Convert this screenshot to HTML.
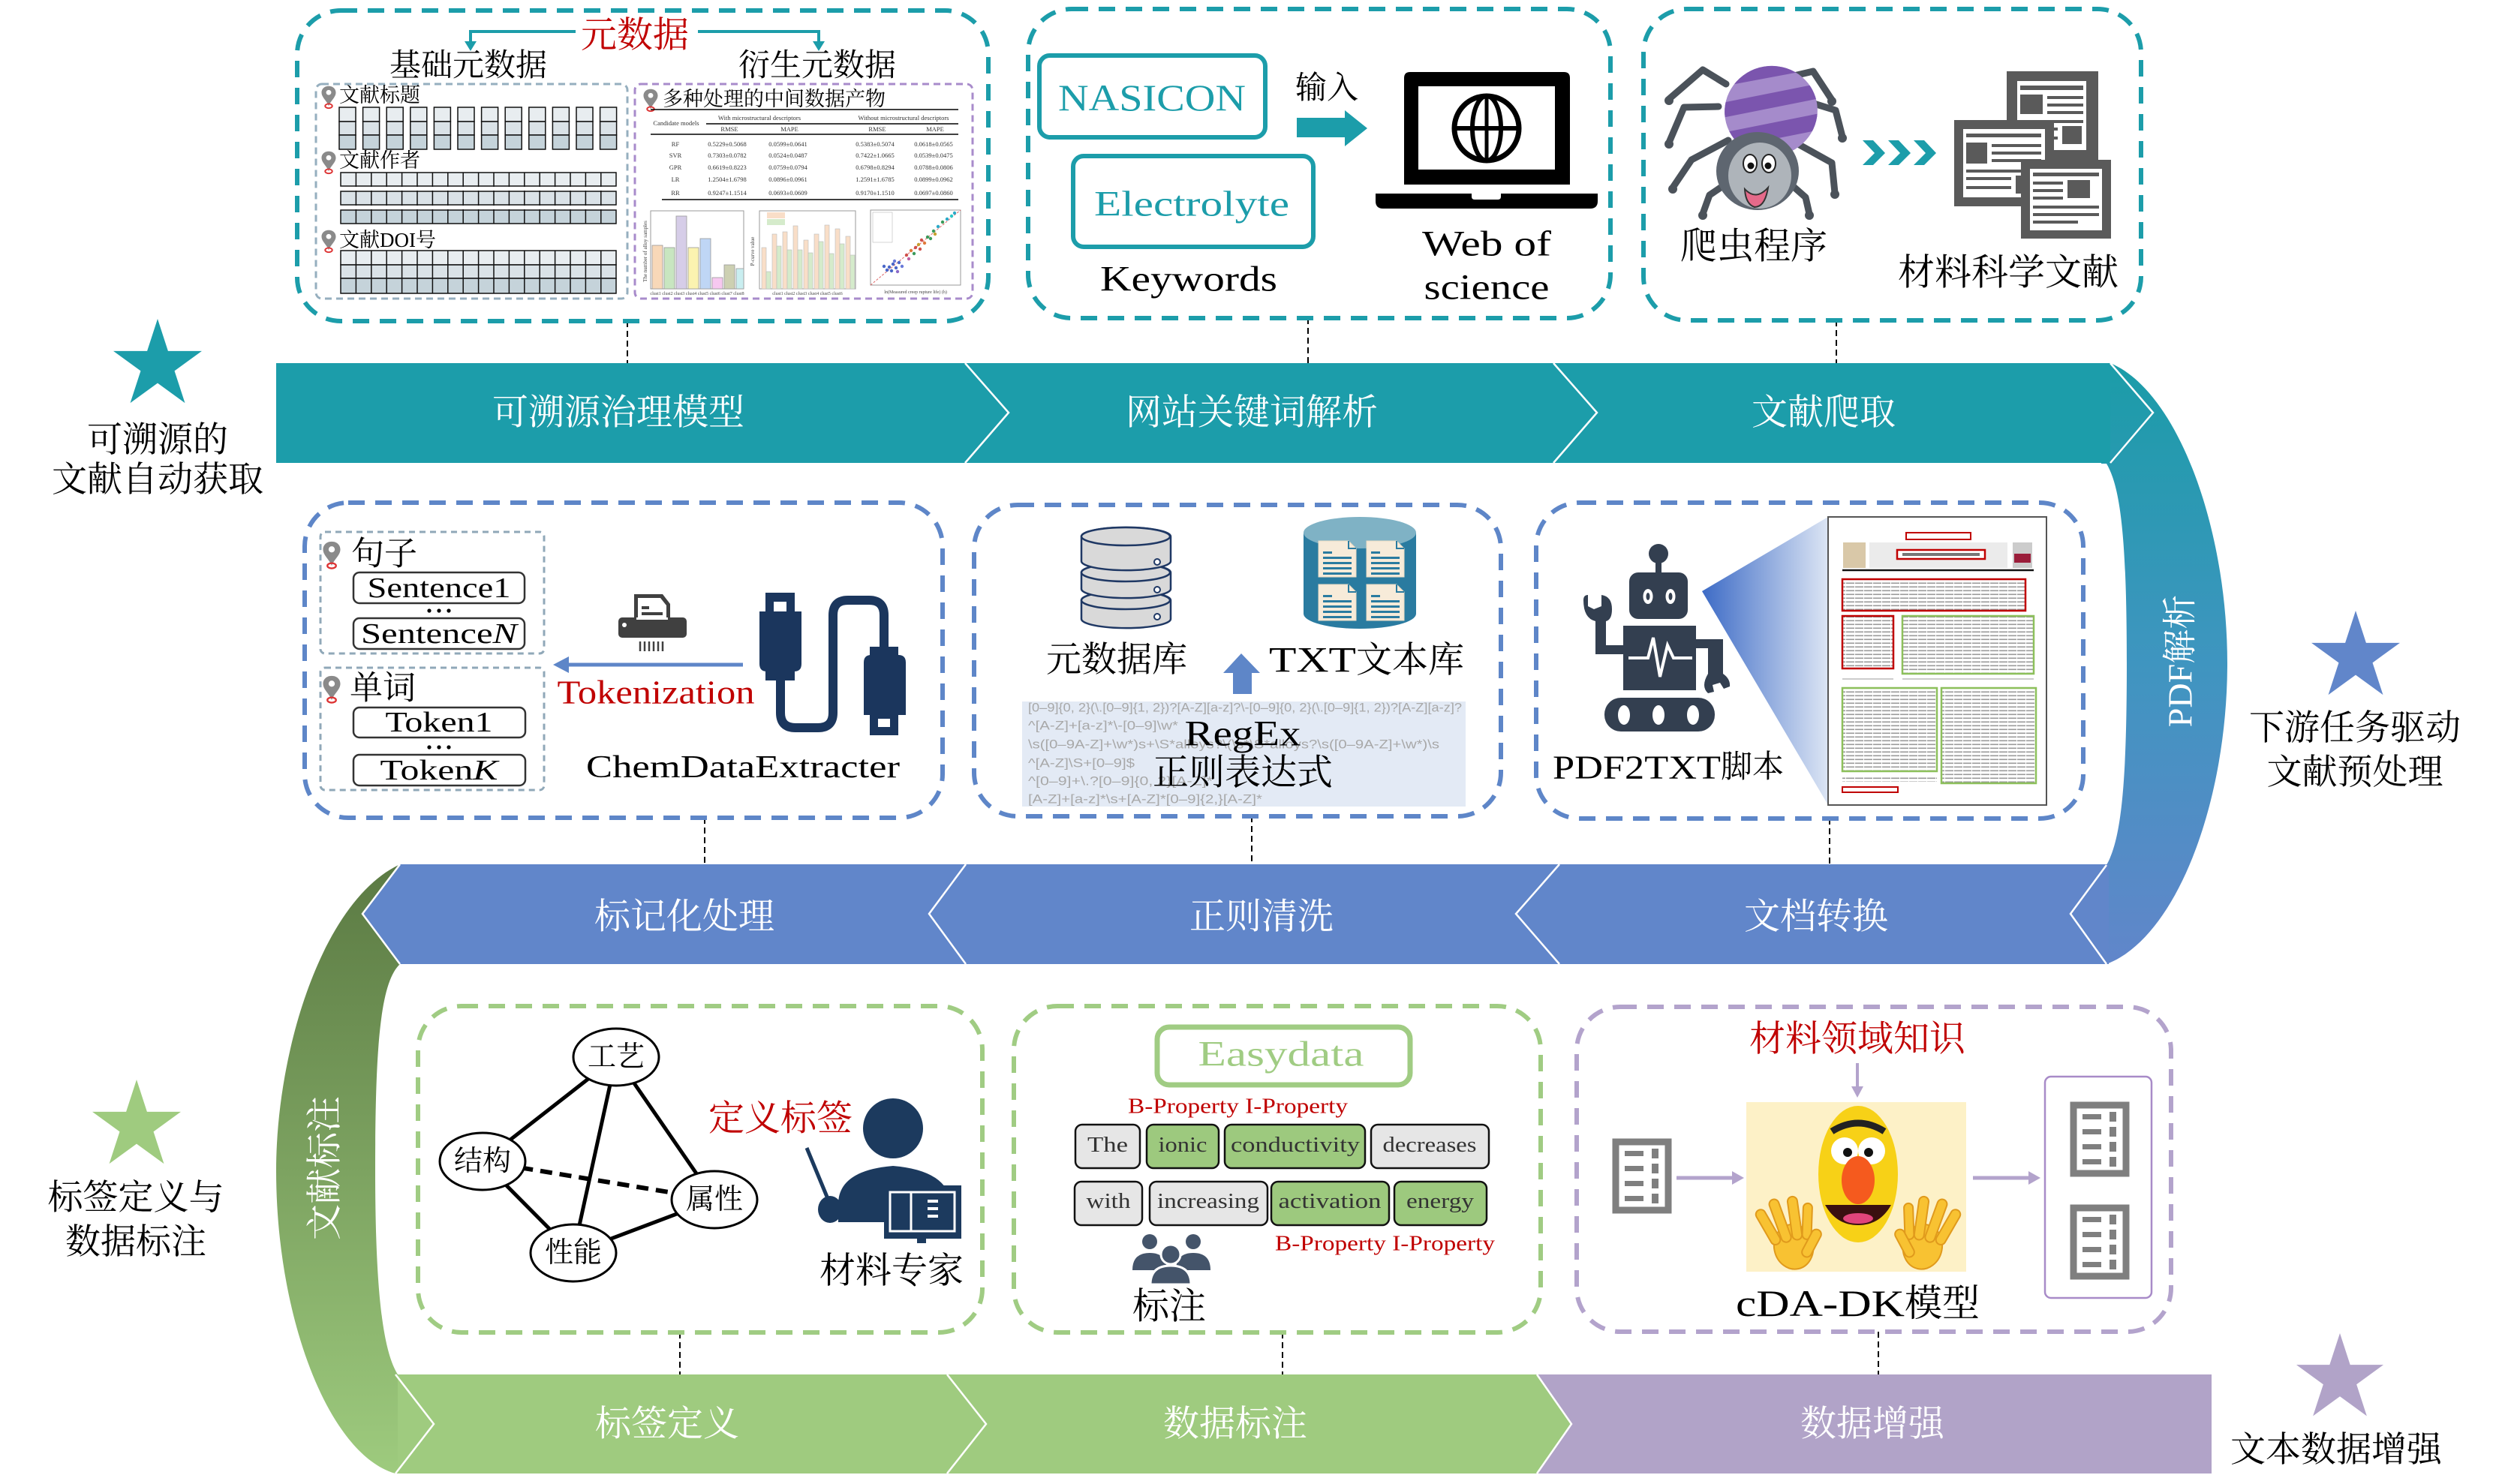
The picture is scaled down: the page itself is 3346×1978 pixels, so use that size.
<!DOCTYPE html>
<html><head><meta charset="utf-8"><title>diagram</title>
<style>
html,body{margin:0;padding:0;background:#fff;width:3346px;height:1978px;overflow:hidden;}
svg{display:block;}
text{font-family:"Liberation Serif","Noto Serif CJK SC",serif;dominant-baseline:central;}
.sans{font-family:"Liberation Sans","Noto Sans CJK SC",sans-serif;}
.bl{fill:#fff;font-size:48px;text-anchor:middle;}
.side{fill:#000;font-size:47px;text-anchor:middle;}
.tb{font-size:8.5px;fill:#333;text-anchor:middle;}
</style></head><body>
<svg width="3346" height="1978" viewBox="0 0 3346 1978" xmlns="http://www.w3.org/2000/svg">
<defs>
 <linearGradient id="gR" gradientUnits="userSpaceOnUse" x1="0" y1="484" x2="0" y2="1285">
  <stop offset="0" stop-color="#1B9CA8"/><stop offset="0.5" stop-color="#3F95C0"/><stop offset="1" stop-color="#6186CA"/>
 </linearGradient>
 <linearGradient id="gL" gradientUnits="userSpaceOnUse" x1="0" y1="1152" x2="0" y2="1964">
  <stop offset="0" stop-color="#5B7A43"/><stop offset="1" stop-color="#9ECB7E"/>
 </linearGradient>
 <linearGradient id="gTri" gradientUnits="userSpaceOnUse" x1="2268" y1="0" x2="2436" y2="0">
  <stop offset="0" stop-color="#3D6BC6"/><stop offset="1" stop-color="#DCE5F4"/>
 </linearGradient>
 <pattern id="ln" patternUnits="userSpaceOnUse" width="12" height="5">
  <rect x="0" y="1.5" width="11" height="1.6" fill="#9A9A9A"/>
 </pattern>
 <polygon id="star" points="0,-1 0.2245,-0.309 0.9511,-0.309 0.3633,0.118 0.5878,0.809 0,0.382 -0.5878,0.809 -0.3633,0.118 -0.9511,-0.309 -0.2245,-0.309"/>
 <g id="pin">
  <path d="M0,-14 C-7,-14 -10,-9 -10,-5 C-10,2 -3,6 0,14 C3,6 10,2 10,-5 C10,-9 7,-14 0,-14Z" fill="#8A8A8A"/>
  <circle cx="0" cy="-5" r="3.6" fill="#fff"/>
  <ellipse cx="0" cy="14" rx="5" ry="3" fill="none" stroke="#D33" stroke-width="2"/>
 </g>
 <g id="docic">
  <rect x="4" y="4" width="70" height="91" fill="#fff" stroke="#7F7F7F" stroke-width="9"/>
  <g fill="#7F7F7F">
   <rect x="16" y="16" width="25" height="7"/><rect x="52" y="13" width="9" height="13"/>
   <rect x="16" y="36" width="25" height="7"/><rect x="52" y="33" width="9" height="13"/>
   <rect x="16" y="56" width="25" height="7"/><rect x="52" y="53" width="9" height="13"/>
   <rect x="16" y="76" width="25" height="7"/><rect x="52" y="73" width="9" height="13"/>
  </g>
 </g>
 <g id="hand">
  <ellipse cx="0" cy="10" rx="26" ry="30" fill="#F8C232" stroke="#E09A1C" stroke-width="2"/>
  <rect x="-27" y="-50" width="13" height="52" rx="6.5" fill="#F8C232" stroke="#E09A1C" stroke-width="2" transform="rotate(-18 -20 0)"/>
  <rect x="-13" y="-58" width="13" height="60" rx="6.5" fill="#F8C232" stroke="#E09A1C" stroke-width="2" transform="rotate(-8 -6 0)"/>
  <rect x="1" y="-56" width="13" height="58" rx="6.5" fill="#F8C232" stroke="#E09A1C" stroke-width="2" transform="rotate(4 8 0)"/>
  <rect x="14" y="-44" width="12" height="48" rx="6" fill="#F8C232" stroke="#E09A1C" stroke-width="2" transform="rotate(14 20 0)"/>
  <rect x="18" y="-10" width="13" height="40" rx="6.5" fill="#F8C232" stroke="#E09A1C" stroke-width="2" transform="rotate(40 24 10)"/>
 </g>
 <g id="cdoc">
  <path d="M0,0 L40,0 L50,10 L50,48 L0,48Z" fill="#F7EBD9" stroke="#EADBC4" stroke-width="1"/>
  <path d="M40,0 L40,10 L50,10" fill="none" stroke="#2A7BA0" stroke-width="2"/>
  <g fill="#2A7BA0"><rect x="6" y="14" width="12" height="3"/><rect x="6" y="21" width="38" height="3"/><rect x="6" y="28" width="38" height="3"/><rect x="6" y="35" width="38" height="3"/><rect x="6" y="42" width="38" height="3"/></g>
 </g>
</defs>

<!-- ===== curves ===== -->
<path d="M2800,484 L2812,484 C2900,520 2968,700 2968,884 C2968,1070 2900,1250 2807,1285 L2800,1285 L2800,1153 L2807,1153 C2826,1120 2834,1050 2834,885 C2834,720 2826,650 2807,618 L2800,618 Z" fill="url(#gR)"/>
<path d="M540,1152 L533,1152 C430,1200 368,1400 368,1560 C368,1760 440,1940 527,1964 L540,1964 L540,1832 L530,1832 C510,1800 500,1720 500,1560 C500,1400 506,1310 533,1285 L540,1285 Z" fill="url(#gL)"/>

<!-- ===== bands ===== -->
<rect x="368" y="484" width="2444" height="133" fill="#1C9DAA"/>
<polygon points="483,1218 533,1152 2810,1152 2810,1285 533,1285" fill="#6186CA"/>
<rect x="530" y="1832" width="1520" height="132" fill="#9FCB7F"/>
<rect x="2048" y="1832" width="899" height="132" fill="#B1A3C8"/>
<polygon points="2047,1832 2094,1898 2047,1964" fill="#9FCB7F"/>

<g fill="none" stroke="#fff" stroke-width="2.5">
 <polyline points="1286,484 1344,550 1286,617"/>
 <polyline points="2070,484 2128,550 2070,617"/>
 <polyline points="2812,484 2869,550 2812,617"/>
 <polyline points="1287,1152 1238,1218 1287,1285"/>
 <polyline points="2078,1152 2020,1218 2078,1285"/>
 <polyline points="2807,1153 2759,1218 2807,1285"/>
 <polyline points="533,1152 483,1218 533,1285"/>
 <polyline points="527,1832 578,1898 527,1964"/>
 <polyline points="1262,1832 1314,1898 1262,1964"/>
 <polyline points="2048,1832 2094,1898 2048,1964"/>
</g>

<text class="bl" x="824" y="550">可溯源治理模型</text>
<text class="bl" x="1668" y="550">网站关键词解析</text>
<text class="bl" x="2430" y="550">文献爬取</text>
<text class="bl" x="912" y="1222">标记化处理</text>
<text class="bl" x="1681" y="1222">正则清洗</text>
<text class="bl" x="2420" y="1222">文档转换</text>
<text class="bl" x="889" y="1898">标签定义</text>
<text class="bl" x="1646" y="1898">数据标注</text>
<text class="bl" x="2495" y="1898">数据增强</text>
<text class="bl" x="0" y="0" transform="translate(2905,881) rotate(-90)" style="font-size:46px">PDF解析</text>
<text class="bl" x="0" y="0" transform="translate(433,1557) rotate(-90)">文献标注</text>

<!-- ===== stars & side labels ===== -->
<use href="#star" transform="translate(210,487) scale(62)" fill="#1C9DAA"/>
<text class="side" x="210" y="587">可溯源的</text>
<text class="side" x="210" y="640">文献自动获取</text>
<use href="#star" transform="translate(3139,876) scale(62)" fill="#6186CA"/>
<text class="side" x="3138" y="971">下游任务驱动</text>
<text class="side" x="3138" y="1030">文献预处理</text>
<use href="#star" transform="translate(182,1501) scale(62)" fill="#9FCB7F"/>
<text class="side" x="181" y="1597">标签定义与</text>
<text class="side" x="181" y="1656">数据标注</text>
<use href="#star" transform="translate(3118,1838) scale(61)" fill="#B1A3C8"/>
<text class="side" x="3113" y="1933">文本数据增强</text>

<!-- ===== connectors ===== -->
<g stroke="#000" stroke-width="2" stroke-dasharray="8 5">
 <line x1="836" y1="428" x2="836" y2="484"/>
 <line x1="1743" y1="424" x2="1743" y2="484"/>
 <line x1="2447" y1="427" x2="2447" y2="484"/>
 <line x1="939" y1="1090" x2="939" y2="1152"/>
 <line x1="1668" y1="1088" x2="1668" y2="1152"/>
 <line x1="2438" y1="1091" x2="2438" y2="1152"/>
 <line x1="906" y1="1776" x2="906" y2="1832"/>
 <line x1="1709" y1="1776" x2="1709" y2="1832"/>
 <line x1="2503" y1="1775" x2="2503" y2="1832"/>
</g>

<!-- ===== dashed boxes ===== -->
<g fill="none" stroke-width="6" stroke-dasharray="22 14">
 <rect x="396" y="14" width="921" height="414" rx="58" stroke="#1C9DAA"/>
 <rect x="1370" y="12" width="776" height="412" rx="58" stroke="#1C9DAA"/>
 <rect x="2190" y="12" width="663" height="415" rx="58" stroke="#1C9DAA"/>
 <rect x="406" y="670" width="850" height="420" rx="58" stroke="#5E86C8"/>
 <rect x="1298" y="673" width="702" height="415" rx="58" stroke="#5E86C8"/>
 <rect x="2047" y="670" width="729" height="421" rx="58" stroke="#5E86C8"/>
 <rect x="557" y="1341" width="752" height="435" rx="58" stroke="#A0CC83"/>
 <rect x="1351" y="1341" width="702" height="435" rx="58" stroke="#A0CC83"/>
 <rect x="2101" y="1342" width="792" height="433" rx="58" stroke="#B3A3CC"/>
</g>

<!-- ===== BOX 1 ===== -->
<g fill="none" stroke="#1C9DAA" stroke-width="4">
 <polyline points="627,58 627,42 767,42"/>
 <polyline points="930,42 1091,42 1091,58"/>
</g>
<polygon points="619,55 635,55 627,68" fill="#1C9DAA"/>
<polygon points="1083,55 1099,55 1091,68" fill="#1C9DAA"/>
<text x="846" y="47" style="font-size:48px;fill:#C00000;text-anchor:middle">元数据</text>
<text x="624" y="88" style="font-size:42px;text-anchor:middle">基础元数据</text>
<text x="1089" y="88" style="font-size:42px;text-anchor:middle">衍生元数据</text>
<rect x="421" y="112" width="415" height="286" rx="8" fill="none" stroke="#96AFBF" stroke-width="3" stroke-dasharray="9 6"/>
<rect x="846" y="112" width="450" height="286" rx="8" fill="none" stroke="#A88BCB" stroke-width="3" stroke-dasharray="9 6"/>
<use href="#pin" transform="translate(438,128) scale(0.95)"/>
<use href="#pin" transform="translate(438,215) scale(0.95)"/>
<use href="#pin" transform="translate(438,320) scale(0.95)"/>
<text x="452" y="127" style="font-size:27px">文献标题</text>
<text x="452" y="214" style="font-size:27px">文献作者</text>
<text x="452" y="320" style="font-size:27px">文献DOI号</text>
<g stroke="#111" stroke-width="1.5">
 <g id="col1">
  <rect x="452" y="143" width="22" height="19" fill="#E8EDF0"/>
  <rect x="452" y="162" width="22" height="18" fill="#DAE2E7"/>
  <rect x="452" y="180" width="22" height="19" fill="#C5D3DA"/>
 </g>
 <use href="#col1" x="31.6"/><use href="#col1" x="63.2"/><use href="#col1" x="94.8"/><use href="#col1" x="126.4"/><use href="#col1" x="158"/><use href="#col1" x="189.6"/><use href="#col1" x="221.2"/><use href="#col1" x="252.8"/><use href="#col1" x="284.4"/><use href="#col1" x="316"/><use href="#col1" x="347.6"/>
 <rect x="454" y="230" width="367" height="18" fill="#E8EDF0"/>
 <rect x="454" y="255" width="367" height="18" fill="#DAE2E7"/>
 <rect x="454" y="280" width="367" height="18" fill="#C5D3DA"/>
 <rect x="454" y="334" width="367" height="19" fill="#E8EDF0"/>
 <rect x="454" y="353" width="367" height="18" fill="#DAE2E7"/>
 <rect x="454" y="371" width="367" height="20" fill="#C5D3DA"/>
 <path d="M474.4,230V298M494.8,230V298M515.2,230V298M535.6,230V298M556,230V298M576.4,230V298M596.8,230V298M617.2,230V298M637.6,230V298M658,230V298M678.4,230V298M698.8,230V298M719.2,230V298M739.6,230V298M760,230V298M780.4,230V298M800.8,230V298" fill="none"/>
 <path d="M474.4,334V391M494.8,334V391M515.2,334V391M535.6,334V391M556,334V391M576.4,334V391M596.8,334V391M617.2,334V391M637.6,334V391M658,334V391M678.4,334V391M698.8,334V391M719.2,334V391M739.6,334V391M760,334V391M780.4,334V391M800.8,334V391" fill="none"/>
</g>
<rect x="453" y="249" width="369" height="5" fill="#fff"/>
<rect x="453" y="274" width="369" height="5" fill="#fff"/>
<!-- right inner -->
<use href="#pin" transform="translate(867,132) scale(0.95)"/>
<text x="883" y="132" style="font-size:27px">多种处理的中间数据产物</text>
<g stroke="#000" stroke-width="1.6">
 <line x1="867" y1="146" x2="1277" y2="146"/>
 <line x1="941" y1="165" x2="1277" y2="165"/>
 <line x1="867" y1="179" x2="1277" y2="179"/>
 <line x1="882" y1="266" x2="1277" y2="266"/>
</g>
<text class="tb" x="901" y="164">Candidate models</text>
<text class="tb" x="1012" y="157">With microstructural descriptors</text>
<text class="tb" x="1204" y="157">Without microstructural descriptors</text>
<text class="tb" x="972" y="172">RMSE</text><text class="tb" x="1052" y="172">MAPE</text><text class="tb" x="1169" y="172">RMSE</text><text class="tb" x="1246" y="172">MAPE</text>
<g class="tb">
<text class="tb" x="900" y="192">RF</text><text class="tb" x="969" y="192">0.5229±0.5068</text><text class="tb" x="1050" y="192">0.0599±0.0641</text><text class="tb" x="1166" y="192">0.5383±0.5074</text><text class="tb" x="1244" y="192">0.0618±0.0565</text>
<text class="tb" x="900" y="207">SVR</text><text class="tb" x="969" y="207">0.7303±0.0782</text><text class="tb" x="1050" y="207">0.0524±0.0487</text><text class="tb" x="1166" y="207">0.7422±1.0665</text><text class="tb" x="1244" y="207">0.0539±0.0475</text>
<text class="tb" x="900" y="223">GPR</text><text class="tb" x="969" y="223">0.6619±0.8223</text><text class="tb" x="1050" y="223">0.0759±0.0794</text><text class="tb" x="1166" y="223">0.6798±0.8294</text><text class="tb" x="1244" y="223">0.0788±0.0806</text>
<text class="tb" x="900" y="239">LR</text><text class="tb" x="969" y="239">1.2504±1.6798</text><text class="tb" x="1050" y="239">0.0896±0.0961</text><text class="tb" x="1166" y="239">1.2591±1.6785</text><text class="tb" x="1244" y="239">0.0899±0.0962</text>
<text class="tb" x="900" y="257">RR</text><text class="tb" x="969" y="257">0.9247±1.1514</text><text class="tb" x="1050" y="257">0.0693±0.0609</text><text class="tb" x="1166" y="257">0.9170±1.1510</text><text class="tb" x="1244" y="257">0.0697±0.0860</text>
</g>
<!-- chart 1 -->
<rect x="867" y="281" width="124" height="104" fill="none" stroke="#999" stroke-width="1"/>
<g stroke="#999" stroke-width="0.8">
 <rect x="869" y="327" width="14" height="58" fill="#F8D8B8"/>
 <rect x="885" y="330" width="14" height="55" fill="#C8E6C0"/>
 <rect x="901" y="288" width="14" height="97" fill="#D6CDE8"/>
 <rect x="917" y="330" width="14" height="55" fill="#FBF3B0"/>
 <rect x="933" y="318" width="14" height="67" fill="#BFD6F5"/>
 <rect x="949" y="370" width="14" height="15" fill="#F7C8F0"/>
 <rect x="965" y="353" width="14" height="32" fill="#CDD0B2"/>
 <rect x="981" y="358" width="10" height="27" fill="#C9EEF0"/>
</g>
<text x="860" y="335" style="font-size:7px;fill:#444;text-anchor:middle" transform="rotate(-90 860 335)">The number of alloy samples</text>
<text x="929" y="392" style="font-size:6px;fill:#444;text-anchor:middle">clust1 clust2 clust3 clust4 clust5 clust6 clust7 clust8</text>
<!-- chart 2 -->
<rect x="1012" y="281" width="128" height="104" fill="none" stroke="#999" stroke-width="1"/>
<g stroke="#bbb" stroke-width="0.6">
 <rect x="1015" y="330" width="6" height="55" fill="#F9DEC8"/><rect x="1021" y="362" width="6" height="23" fill="#D5EBCB"/>
 <rect x="1029" y="312" width="6" height="73" fill="#F9DEC8"/><rect x="1035" y="328" width="6" height="57" fill="#D5EBCB"/>
 <rect x="1043" y="309" width="6" height="76" fill="#F9DEC8"/><rect x="1049" y="333" width="6" height="52" fill="#D5EBCB"/>
 <rect x="1057" y="301" width="6" height="84" fill="#F9DEC8"/><rect x="1063" y="333" width="6" height="52" fill="#D5EBCB"/>
 <rect x="1071" y="320" width="6" height="65" fill="#F9DEC8"/><rect x="1077" y="337" width="6" height="48" fill="#D5EBCB"/>
 <rect x="1085" y="312" width="6" height="73" fill="#F9DEC8"/><rect x="1091" y="322" width="6" height="63" fill="#D5EBCB"/>
 <rect x="1099" y="300" width="6" height="85" fill="#F9DEC8"/><rect x="1105" y="338" width="6" height="47" fill="#D5EBCB"/>
 <rect x="1113" y="305" width="6" height="80" fill="#F9DEC8"/><rect x="1119" y="325" width="6" height="60" fill="#D5EBCB"/>
 <rect x="1127" y="315" width="6" height="70" fill="#F9DEC8"/><rect x="1133" y="340" width="6" height="45" fill="#D5EBCB"/>
</g>
<rect x="1022" y="283" width="24" height="8" fill="#F9DEC8"/><rect x="1022" y="292" width="24" height="8" fill="#D5EBCB"/>
<text x="1003" y="335" style="font-size:7px;fill:#444;text-anchor:middle" transform="rotate(-90 1003 335)">P-curve value</text>
<text x="1076" y="392" style="font-size:6px;fill:#444;text-anchor:middle">clust1 clust2 clust3 clust4 clust5 clust6</text>
<!-- chart 3 -->
<rect x="1160" y="280" width="120" height="100" fill="none" stroke="#999" stroke-width="1"/>
<line x1="1160" y1="380" x2="1280" y2="280" stroke="#d66" stroke-width="1" stroke-dasharray="3 2"/>
<rect x="1163" y="283" width="26" height="40" fill="#fff" stroke="#bbb" stroke-width="0.6"/>
<g>
 <circle cx="1185" cy="356" r="2.2" fill="#4A66C8"/><circle cx="1190" cy="352" r="2.2" fill="#4A66C8"/><circle cx="1194" cy="357" r="2.2" fill="#4A66C8"/><circle cx="1182" cy="360" r="2.2" fill="#4A66C8"/><circle cx="1198" cy="350" r="2.2" fill="#4A66C8"/><circle cx="1188" cy="361" r="2.2" fill="#4A66C8"/><circle cx="1202" cy="355" r="2.2" fill="#6A7AD8"/><circle cx="1192" cy="348" r="2.2" fill="#6A7AD8"/><circle cx="1178" cy="355" r="2.2" fill="#4A66C8"/><circle cx="1196" cy="362" r="2.2" fill="#8A6AC8"/>
 <circle cx="1208" cy="340" r="2.2" fill="#D0504A"/><circle cx="1214" cy="334" r="2.2" fill="#E07A3A"/><circle cx="1220" cy="330" r="2.2" fill="#D0504A"/><circle cx="1224" cy="326" r="2.2" fill="#C8A030"/><circle cx="1218" cy="338" r="2.2" fill="#3A9A5A"/><circle cx="1228" cy="320" r="2.2" fill="#D0504A"/><circle cx="1232" cy="324" r="2.2" fill="#E07A3A"/><circle cx="1236" cy="316" r="2.2" fill="#3A9A5A"/><circle cx="1211" cy="345" r="2.2" fill="#C060A0"/><circle cx="1226" cy="332" r="2.2" fill="#D0504A"/>
 <circle cx="1244" cy="308" r="2.2" fill="#3A9A5A"/><circle cx="1250" cy="302" r="2.2" fill="#2AAAC8"/><circle cx="1256" cy="296" r="2.2" fill="#3A9A5A"/><circle cx="1262" cy="292" r="2.2" fill="#2AAAC8"/><circle cx="1268" cy="288" r="2.2" fill="#2AC8C8"/><circle cx="1272" cy="284" r="2.2" fill="#2AAAC8"/><circle cx="1246" cy="312" r="2.2" fill="#C8A030"/><circle cx="1240" cy="318" r="2.2" fill="#3A9A5A"/>
</g>
<text x="1220" y="390" style="font-size:6px;fill:#444;text-anchor:middle">ln(Measured creep rupture life) (h)</text>

<!-- ===== BOX 2 ===== -->
<rect x="1385" y="74" width="301" height="109" rx="14" fill="#fff" stroke="#1C9DAA" stroke-width="6"/>
<text x="1535" y="130" textLength="250" lengthAdjust="spacingAndGlyphs" style="font-size:50px;fill:#1C9DAA;text-anchor:middle">NASICON</text>
<rect x="1430" y="208" width="320" height="121" rx="14" fill="#fff" stroke="#1C9DAA" stroke-width="6"/>
<text x="1588" y="272" textLength="260" lengthAdjust="spacingAndGlyphs" style="font-size:48px;fill:#1C9DAA;text-anchor:middle">Electrolyte</text>
<text x="1584" y="372" textLength="236" lengthAdjust="spacingAndGlyphs" style="font-size:48px;text-anchor:middle">Keywords</text>
<text x="1768" y="118" style="font-size:42px;text-anchor:middle">输入</text>
<polygon points="1728,157 1792,157 1792,147 1822,171 1792,195 1792,183 1728,183" fill="#1C9DAA"/>
<path d="M1871,104 Q1871,96 1879,96 L2084,96 Q2092,96 2092,104 L2092,246 L1871,246 Z" fill="#000"/>
<rect x="1890" y="115" width="182" height="111" fill="#fff"/>
<circle cx="1981" cy="171" r="43" fill="none" stroke="#000" stroke-width="7"/>
<ellipse cx="1981" cy="171" rx="19" ry="43" fill="none" stroke="#000" stroke-width="6"/>
<line x1="1981" y1="128" x2="1981" y2="214" stroke="#000" stroke-width="5"/>
<line x1="1938" y1="171" x2="2024" y2="171" stroke="#000" stroke-width="6"/>
<path d="M1833,258 L2129,258 L2129,268 Q2129,278 2119,278 L1843,278 Q1833,278 1833,268 Z" fill="#000"/>
<path d="M1961,258 L2000,258 L2000,262 Q2000,266 1996,266 L1965,266 Q1961,266 1961,262 Z" fill="#fff"/>
<text x="1981" y="325" textLength="172" lengthAdjust="spacingAndGlyphs" style="font-size:48px;text-anchor:middle">Web of</text>
<text x="1981" y="383" textLength="167" lengthAdjust="spacingAndGlyphs" style="font-size:48px;text-anchor:middle">science</text>

<!-- ===== BOX 3 ===== -->
<g fill="none" stroke="#4B525A" stroke-width="9" stroke-linecap="round" stroke-linejoin="round">
 <polyline points="2300,112 2269,93 2224,132"/>
 <polyline points="2290,142 2244,143 2224,190"/>
 <polyline points="2303,187 2254,213 2229,250"/>
 <polyline points="2318,233 2278,260 2269,285"/>
 <polyline points="2382,103 2416,95 2441,133"/>
 <polyline points="2401,133 2446,147 2455,182"/>
 <polyline points="2387,187 2441,217 2445,257"/>
 <polyline points="2372,233 2406,263 2411,285"/>
</g>
<g fill="#4B525A">
 <circle cx="2224" cy="134" r="6"/><circle cx="2224" cy="192" r="6"/><circle cx="2229" cy="252" r="6"/><circle cx="2269" cy="287" r="6"/>
 <circle cx="2441" cy="135" r="6"/><circle cx="2455" cy="184" r="6"/><circle cx="2445" cy="259" r="6"/><circle cx="2411" cy="287" r="6"/>
</g>
<clipPath id="spb"><ellipse cx="2360" cy="148" rx="62" ry="60" transform="rotate(-15 2360 148)"/></clipPath>
<ellipse cx="2360" cy="148" rx="62" ry="60" transform="rotate(-15 2360 148)" fill="#A58BCB"/>
<g clip-path="url(#spb)" fill="#7B55AE">
 <polygon points="2280,100 2440,70 2440,88 2280,118"/>
 <polygon points="2280,140 2440,108 2440,128 2280,160"/>
 <polygon points="2280,180 2440,148 2440,170 2280,202"/>
</g>
<ellipse cx="2342" cy="228" rx="55" ry="52" fill="#5E6670"/>
<ellipse cx="2345" cy="234" rx="42" ry="44" fill="#AEB4BA"/>
<ellipse cx="2332" cy="218" rx="9" ry="12" fill="#fff" stroke="#222" stroke-width="2"/>
<ellipse cx="2357" cy="218" rx="9" ry="12" fill="#fff" stroke="#222" stroke-width="2"/>
<circle cx="2333" cy="221" r="4.5" fill="#111"/><circle cx="2356" cy="221" r="4.5" fill="#111"/>
<path d="M2325,252 Q2340,268 2356,250 Q2352,276 2338,276 Q2326,272 2325,252Z" fill="#E56A8A" stroke="#333" stroke-width="2"/>
<text x="2337" y="328" style="font-size:49px;text-anchor:middle">爬虫程序</text>
<g fill="#1C9DAA">
 <polygon points="2482,187 2496,187 2512,204 2496,220 2482,220 2498,204"/>
 <polygon points="2516,187 2530,187 2546,204 2530,220 2516,220 2532,204"/>
 <polygon points="2550,187 2564,187 2580,204 2564,220 2550,220 2566,204"/>
</g>
<g>
 <rect x="2674" y="95" width="122" height="118" fill="#5A5A5A"/>
 <rect x="2688" y="108" width="92" height="92" fill="#fff"/>
 <g fill="#5A5A5A"><rect x="2692" y="114" width="84" height="6"/><rect x="2692" y="126" width="30" height="26"/><rect x="2728" y="128" width="48" height="4"/><rect x="2728" y="138" width="48" height="4"/><rect x="2728" y="148" width="48" height="4"/><rect x="2692" y="160" width="84" height="4"/><rect x="2692" y="170" width="50" height="4"/><rect x="2748" y="168" width="26" height="24"/><rect x="2692" y="182" width="50" height="4"/></g>
 <rect x="2604" y="160" width="133" height="115" fill="#5A5A5A"/>
 <rect x="2616" y="172" width="109" height="91" fill="#fff"/>
 <g fill="#5A5A5A"><rect x="2620" y="178" width="100" height="5"/><rect x="2620" y="190" width="28" height="28"/><rect x="2654" y="192" width="66" height="4"/><rect x="2654" y="202" width="66" height="4"/><rect x="2654" y="212" width="66" height="4"/><rect x="2620" y="226" width="100" height="4"/><rect x="2620" y="236" width="60" height="4"/><rect x="2686" y="234" width="34" height="24"/><rect x="2620" y="248" width="60" height="4"/></g>
 <rect x="2693" y="213" width="120" height="105" fill="#5A5A5A"/>
 <rect x="2705" y="225" width="96" height="82" fill="#fff"/>
 <g fill="#5A5A5A"><rect x="2709" y="230" width="88" height="5"/><rect x="2709" y="242" width="40" height="4"/><rect x="2755" y="240" width="30" height="24"/><rect x="2709" y="252" width="40" height="4"/><rect x="2709" y="262" width="40" height="4"/><rect x="2709" y="274" width="88" height="4"/><rect x="2709" y="284" width="88" height="4"/><rect x="2709" y="294" width="60" height="4"/></g>
</g>
<text x="2676" y="363" style="font-size:49px;text-anchor:middle">材料科学文献</text>

<!-- ===== BOX 4 ===== -->
<rect x="427" y="709" width="298" height="162" rx="6" fill="none" stroke="#90A8B8" stroke-width="3" stroke-dasharray="8 6"/>
<rect x="427" y="890" width="298" height="163" rx="6" fill="none" stroke="#90A8B8" stroke-width="3" stroke-dasharray="8 6"/>
<use href="#pin" transform="translate(442,738) scale(1.15)"/>
<use href="#pin" transform="translate(442,917) scale(1.15)"/>
<text x="468" y="738" style="font-size:44px">句子</text>
<text x="466" y="917" style="font-size:44px">单词</text>
<g fill="#fff" stroke="#333" stroke-width="2.5">
 <rect x="471" y="763" width="228" height="41" rx="8"/>
 <rect x="471" y="824" width="228" height="41" rx="8"/>
 <rect x="471" y="943" width="229" height="40" rx="8"/>
 <rect x="471" y="1006" width="229" height="41" rx="8"/>
</g>
<text x="585" y="784" textLength="191" lengthAdjust="spacingAndGlyphs" style="font-size:38px;text-anchor:middle">Sentence1</text>
<text x="585" y="845" textLength="208" lengthAdjust="spacingAndGlyphs" style="font-size:38px;text-anchor:middle">Sentence<tspan font-style="italic">N</tspan></text>
<text x="585" y="963" textLength="143" lengthAdjust="spacingAndGlyphs" style="font-size:38px;text-anchor:middle">Token1</text>
<text x="585" y="1027" textLength="157" lengthAdjust="spacingAndGlyphs" style="font-size:38px;text-anchor:middle">Token<tspan font-style="italic">K</tspan></text>
<g fill="#000"><circle cx="572" cy="814" r="2.6"/><circle cx="585" cy="814" r="2.6"/><circle cx="598" cy="814" r="2.6"/><circle cx="572" cy="996" r="2.6"/><circle cx="585" cy="996" r="2.6"/><circle cx="598" cy="996" r="2.6"/></g>
<!-- shredder -->
<path d="M845,792 L883,792 L893,805 L893,835 L845,835 Z" fill="#404040"/>
<path d="M850,797 L880,797 L888,807 L888,835 L850,835 Z" fill="#fff"/>
<g fill="#404040"><rect x="855" y="808" width="10" height="4"/><rect x="855" y="816" width="28" height="4"/><rect x="855" y="824" width="28" height="4"/></g>
<rect x="824" y="823" width="91" height="27" rx="5" fill="#404040"/>
<rect x="848" y="823" width="42" height="3" fill="#fff"/>
<circle cx="832" cy="833" r="3" fill="#fff"/>
<g stroke="#404040" stroke-width="2.5"><line x1="853" y1="855" x2="853" y2="868"/><line x1="859" y1="855" x2="859" y2="868"/><line x1="865" y1="855" x2="865" y2="868"/><line x1="871" y1="855" x2="871" y2="868"/><line x1="877" y1="855" x2="877" y2="868"/><line x1="883" y1="855" x2="883" y2="868"/></g>
<line x1="990" y1="886" x2="752" y2="886" stroke="#5E86C8" stroke-width="5"/>
<polygon points="737,886 758,875 758,897" fill="#5E86C8"/>
<text x="874" y="923" textLength="263" lengthAdjust="spacingAndGlyphs" style="font-size:44px;fill:#C00000;text-anchor:middle">Tokenization</text>
<!-- usb -->
<g fill="#1B365D">
 <rect x="1020" y="790" width="39" height="27"/>
 <path d="M1012,815 L1068,815 L1068,885 Q1068,895 1058,895 L1022,895 Q1012,895 1012,885 Z"/>
 <rect x="1020" y="893" width="39" height="14"/>
 <rect x="1159" y="862" width="38" height="13"/>
 <path d="M1151,883 Q1151,873 1161,873 L1197,873 Q1207,873 1207,883 L1207,953 L1151,953 Z"/>
 <rect x="1159" y="951" width="38" height="29"/>
</g>
<rect x="1031" y="802" width="17" height="13" fill="#fff"/>
<rect x="1170" y="958" width="16" height="11" fill="#fff"/>
<path d="M1040,905 L1040,950 Q1040,970 1060,970 L1090,970 Q1110,970 1110,950 L1110,820 Q1110,800 1130,800 L1158,800 Q1178,800 1178,820 L1178,864" fill="none" stroke="#1B365D" stroke-width="12"/>
<text x="990" y="1023" textLength="418" lengthAdjust="spacingAndGlyphs" style="font-size:42px;text-anchor:middle">ChemDataExtracter</text>

<!-- ===== BOX 5 ===== -->
<g fill="#D9D9D9" stroke="#1F3864" stroke-width="2.5">
 <path d="M1441,800 L1441,825 A59,12 0 0 0 1560,825 L1560,800 A59,12 0 0 0 1441,800Z"/>
 <ellipse cx="1500" cy="800" rx="59" ry="12"/>
 <path d="M1441,763 L1441,785 A59,12 0 0 0 1560,785 L1560,763 A59,12 0 0 0 1441,763Z"/>
 <ellipse cx="1500" cy="763" rx="59" ry="12"/>
 <path d="M1441,715 L1441,748 A59,12 0 0 0 1560,748 L1560,715 A59,12 0 0 0 1441,715Z"/>
 <ellipse cx="1500" cy="715" rx="59" ry="12"/>
</g>
<g fill="#fff" stroke="#1F3864" stroke-width="2"><circle cx="1542" cy="749" r="4"/><circle cx="1542" cy="786" r="4"/><circle cx="1542" cy="822" r="4"/></g>
<text x="1488" y="880" style="font-size:47px;text-anchor:middle">元数据库</text>
<path d="M1737,710 L1737,818 A75,20 0 0 0 1887,818 L1887,710 Z" fill="#2A7BA0"/>
<ellipse cx="1812" cy="710" rx="75" ry="21" fill="#7FB2C5"/>
<use href="#cdoc" transform="translate(1757,721)"/>
<use href="#cdoc" transform="translate(1821,721)"/>
<use href="#cdoc" transform="translate(1757,779)"/>
<use href="#cdoc" transform="translate(1821,779)"/>
<text x="1691" y="880" textLength="116" lengthAdjust="spacingAndGlyphs" style="font-size:48px">TXT</text>
<text x="1807" y="880" style="font-size:48px">文本库</text>
<polygon points="1630,897 1654,871 1679,897 1668,897 1668,925 1643,925 1643,897" fill="#5E86C8"/>
<rect x="1362" y="935" width="591" height="140" fill="#E3EAF5"/>
<g class="sans" style="font-size:17px;fill:#A8A8A8">
 <text class="sans" x="1370" y="943" textLength="578" lengthAdjust="spacingAndGlyphs">[0–9]{0, 2}(\.[0–9]{1, 2})?[A-Z][a-z]?\-[0–9]{0, 2}(\.[0–9]{1, 2})?[A-Z][a-z]?</text>
 <text class="sans" x="1370" y="967" textLength="200" lengthAdjust="spacingAndGlyphs">^[A-Z]+[a-z]*\-[0–9]\w*</text>
 <text class="sans" x="1370" y="992" textLength="548" lengthAdjust="spacingAndGlyphs">\s([0–9A-Z]+\w*)s+\S*alloys?\(\s*\S*alloys?\s([0–9A-Z]+\w*)\s</text>
 <text class="sans" x="1370" y="1017" textLength="142" lengthAdjust="spacingAndGlyphs">^[A-Z]\S+[0–9]$</text>
 <text class="sans" x="1370" y="1041" textLength="246" lengthAdjust="spacingAndGlyphs">^[0–9]+\.?[0–9]{0, 2}[A-Z]*</text>
 <text class="sans" x="1370" y="1065" textLength="312" lengthAdjust="spacingAndGlyphs">[A-Z]+[a-z]*\s+[A-Z]*[0–9]{2,}[A-Z]*</text>
</g>
<text x="1656" y="978" textLength="155" lengthAdjust="spacingAndGlyphs" style="font-size:48px;text-anchor:middle">RegEx</text>
<text x="1656" y="1030" style="font-size:48px;text-anchor:middle">正则表达式</text>

<!-- ===== BOX 6 ===== -->
<polygon points="2268,788 2436,689 2436,1073" fill="url(#gTri)"/>
<g fill="#333F50">
 <circle cx="2210" cy="738" r="13"/>
 <rect x="2206" y="745" width="8" height="20"/>
 <rect x="2171" y="763" width="78" height="62" rx="12"/>
 <rect x="2163" y="834" width="97" height="86"/>
 <rect x="2138" y="930" width="147" height="45" rx="22"/>
 <path d="M2110,800 Q2110,793 2116,793 L2116,808 L2124,812 L2134,808 L2134,793 Q2148,795 2148,812 Q2148,826 2140,828 L2140,860 L2163,860 L2163,872 L2126,872 L2126,828 Q2110,824 2110,800Z"/>
 <path d="M2260,852 L2296,852 L2296,898 Q2306,905 2305,915 L2297,918 L2292,910 L2282,913 L2284,922 L2276,924 Q2266,915 2276,898 L2276,864 L2260,864Z"/>
</g>
<g fill="#fff">
 <ellipse cx="2196" cy="795" rx="6.5" ry="10"/><ellipse cx="2226" cy="795" rx="6.5" ry="10"/>
 <ellipse cx="2164" cy="953" rx="8" ry="13"/><ellipse cx="2210" cy="953" rx="8" ry="13"/><ellipse cx="2256" cy="953" rx="8" ry="13"/>
</g>
<g fill="#333F50"><ellipse cx="2196" cy="795" rx="2.5" ry="5"/><ellipse cx="2226" cy="795" rx="2.5" ry="5"/></g>
<polyline points="2170,877 2196,877 2203,850 2212,902 2222,860 2230,877 2255,877" fill="none" stroke="#fff" stroke-width="4"/>
<rect x="2436" y="689" width="291" height="384" fill="#fff" stroke="#555" stroke-width="2"/>
<rect x="2540" y="710" width="86" height="9" fill="#fff" stroke="#C00000" stroke-width="2"/>
<rect x="2456" y="723" width="30" height="34" fill="#D9C8A8"/>
<rect x="2491" y="723" width="184" height="34" fill="#EBEBEB"/>
<rect x="2528" y="733" width="117" height="12" fill="#fff" stroke="#C00000" stroke-width="2.5"/>
<rect x="2535" y="737" width="103" height="4" fill="#777"/>
<rect x="2682" y="723" width="26" height="34" fill="#ccc"/><rect x="2684" y="738" width="22" height="12" fill="#9A1D3A"/>
<line x1="2455" y1="760" x2="2710" y2="760" stroke="#111" stroke-width="2.5"/>
<rect x="2455" y="772" width="244" height="42" fill="url(#ln)" stroke="#C00000" stroke-width="2.5"/>
<rect x="2455" y="821" width="68" height="70" fill="url(#ln)" stroke="#C00000" stroke-width="2.5"/>
<rect x="2535" y="821" width="175" height="77" fill="url(#ln)" stroke="#8DC05B" stroke-width="2.5"/>
<line x1="2455" y1="905" x2="2523" y2="905" stroke="#bbb" stroke-width="1.5"/><line x1="2535" y1="905" x2="2710" y2="905" stroke="#bbb" stroke-width="1.5"/>
<rect x="2455" y="917" width="126" height="111" fill="url(#ln)" stroke="#8DC05B" stroke-width="2.5"/>
<rect x="2587" y="917" width="126" height="127" fill="url(#ln)" stroke="#8DC05B" stroke-width="2.5"/>
<rect x="2455" y="1034" width="126" height="8" fill="url(#ln)"/>
<rect x="2455" y="1049" width="74" height="7" fill="#fff" stroke="#C00000" stroke-width="2"/>
<text x="2069" y="1023" textLength="224" lengthAdjust="spacingAndGlyphs" style="font-size:44px">PDF2TXT</text>
<text x="2293" y="1023" style="font-size:42px">脚本</text>

<!-- ===== BOX 7 ===== -->
<g stroke="#000" stroke-width="5" fill="none">
 <line x1="821" y1="1409" x2="643" y2="1548"/>
 <line x1="821" y1="1409" x2="764" y2="1670"/>
 <line x1="821" y1="1409" x2="952" y2="1599"/>
 <line x1="643" y1="1548" x2="764" y2="1670"/>
 <line x1="952" y1="1599" x2="764" y2="1670"/>
 <line x1="643" y1="1548" x2="952" y2="1599" stroke-dasharray="16 10" stroke-width="6"/>
</g>
<g fill="#fff" stroke="#000" stroke-width="3">
 <ellipse cx="821" cy="1409" rx="57" ry="38"/>
 <ellipse cx="643" cy="1548" rx="57" ry="38"/>
 <ellipse cx="952" cy="1599" rx="57" ry="38"/>
 <ellipse cx="764" cy="1670" rx="57" ry="38"/>
</g>
<text x="821" y="1409" style="font-size:38px;text-anchor:middle">工艺</text>
<text x="643" y="1548" style="font-size:38px;text-anchor:middle">结构</text>
<text x="952" y="1599" style="font-size:38px;text-anchor:middle">属性</text>
<text x="764" y="1670" style="font-size:38px;text-anchor:middle">性能</text>
<text x="1040" y="1491" style="font-size:48px;fill:#C00000;text-anchor:middle">定义标签</text>
<g fill="#1C3A5E">
 <ellipse cx="1190" cy="1504" rx="40" ry="40"/>
 <path d="M1117,1629 L1117,1605 Q1117,1560 1190,1554 Q1263,1560 1268,1605 L1268,1629 Z"/>
 <rect x="1178" y="1580" width="103" height="71"/>
 <ellipse cx="1106" cy="1612" rx="16" ry="18"/>
</g>
<line x1="1075" y1="1530" x2="1104" y2="1600" stroke="#1C3A5E" stroke-width="5"/>
<rect x="1186" y="1589" width="86" height="52" fill="none" stroke="#fff" stroke-width="3"/>
<line x1="1214" y1="1589" x2="1214" y2="1641" stroke="#fff" stroke-width="3"/>
<g fill="#fff"><rect x="1236" y="1599" width="14" height="4"/><rect x="1236" y="1609" width="14" height="4"/><rect x="1236" y="1619" width="14" height="4"/></g>
<rect x="1222" y="1651" width="12" height="6" fill="#1C3A5E"/>
<text x="1188" y="1694" style="font-size:48px;text-anchor:middle">材料专家</text>

<!-- ===== BOX 8 ===== -->
<rect x="1542" y="1369" width="337" height="77" rx="16" fill="#fff" stroke="#A0CC83" stroke-width="7"/>
<text x="1707" y="1405" textLength="221" lengthAdjust="spacingAndGlyphs" style="font-size:48px;fill:#A0CC83;text-anchor:middle">Easydata</text>
<text x="1503" y="1475" textLength="293" lengthAdjust="spacingAndGlyphs" style="font-size:28px;fill:#C00000">B-Property  I-Property</text>
<g stroke="#111" stroke-width="2.5">
 <rect x="1433" y="1499" width="86" height="58" rx="9" fill="#E6E6E6"/>
 <rect x="1528" y="1499" width="96" height="58" rx="9" fill="#9DC97E"/>
 <rect x="1632" y="1499" width="187" height="58" rx="9" fill="#9DC97E"/>
 <rect x="1827" y="1499" width="157" height="58" rx="9" fill="#E6E6E6"/>
 <rect x="1432" y="1575" width="90" height="58" rx="9" fill="#E6E6E6"/>
 <rect x="1532" y="1575" width="157" height="58" rx="9" fill="#E6E6E6"/>
 <rect x="1694" y="1575" width="157" height="58" rx="9" fill="#9DC97E"/>
 <rect x="1858" y="1575" width="123" height="58" rx="9" fill="#9DC97E"/>
</g>
<g style="font-size:29px;fill:#333;text-anchor:middle">
 <text x="1476" y="1526" textLength="54" lengthAdjust="spacingAndGlyphs">The</text>
 <text x="1576" y="1526" textLength="65" lengthAdjust="spacingAndGlyphs">ionic</text>
 <text x="1726" y="1526" textLength="172" lengthAdjust="spacingAndGlyphs">conductivity</text>
 <text x="1905" y="1526" textLength="125" lengthAdjust="spacingAndGlyphs">decreases</text>
 <text x="1477" y="1601" textLength="59" lengthAdjust="spacingAndGlyphs">with</text>
 <text x="1610" y="1601" textLength="136" lengthAdjust="spacingAndGlyphs">increasing</text>
 <text x="1772" y="1601" textLength="137" lengthAdjust="spacingAndGlyphs">activation</text>
 <text x="1919" y="1601" textLength="90" lengthAdjust="spacingAndGlyphs">energy</text>
</g>
<text x="1699" y="1658" textLength="293" lengthAdjust="spacingAndGlyphs" style="font-size:28px;fill:#C00000">B-Property  I-Property</text>
<g fill="#44546A">
 <circle cx="1532" cy="1655" r="10"/><circle cx="1590" cy="1655" r="10"/>
 <path d="M1509,1693 Q1509,1670 1532,1670 Q1555,1670 1555,1693Z"/>
 <path d="M1567,1693 Q1567,1670 1590,1670 Q1613,1670 1613,1693Z"/>
</g>
<circle cx="1560" cy="1672" r="13" fill="#44546A" stroke="#fff" stroke-width="3"/>
<path d="M1533,1712 Q1533,1687 1560,1687 Q1587,1687 1587,1712Z" fill="#44546A" stroke="#fff" stroke-width="3"/>
<text x="1558" y="1741" style="font-size:49px;text-anchor:middle">标注</text>

<!-- ===== BOX 9 ===== -->
<text x="2475" y="1385" style="font-size:48px;fill:#C00000;text-anchor:middle">材料领域知识</text>
<line x1="2475" y1="1417" x2="2475" y2="1450" stroke="#B3A3CC" stroke-width="4"/>
<polygon points="2467,1448 2483,1448 2475,1463" fill="#B3A3CC"/>
<rect x="2327" y="1469" width="293" height="226" fill="#FDF1C7"/>
<ellipse cx="2476" cy="1565" rx="53" ry="91" fill="#F7D117"/>
<path d="M2441,1508 Q2476,1486 2511,1508" fill="none" stroke="#222" stroke-width="9"/>
<ellipse cx="2458" cy="1534" rx="18" ry="18" fill="#fff"/><ellipse cx="2494" cy="1534" rx="18" ry="18" fill="#fff"/>
<circle cx="2462" cy="1536" r="6" fill="#111"/><circle cx="2490" cy="1536" r="6" fill="#111"/>
<ellipse cx="2476" cy="1573" rx="22" ry="32" fill="#F55A1E"/>
<path d="M2432,1606 L2520,1606 Q2505,1633 2476,1633 Q2447,1633 2432,1606Z" fill="#3A1010"/>
<ellipse cx="2476" cy="1624" rx="20" ry="7" fill="#E0457B"/>
<use href="#hand" transform="translate(2388,1652) rotate(-12)"/>
<use href="#hand" transform="translate(2564,1652) scale(-1,1) rotate(-12)"/>
<use href="#docic" transform="translate(2149,1518)"/>
<line x1="2234" y1="1570" x2="2312" y2="1570" stroke="#B3A3CC" stroke-width="5"/>
<polygon points="2324,1570 2308,1561 2308,1579" fill="#B3A3CC"/>
<line x1="2629" y1="1570" x2="2707" y2="1570" stroke="#B3A3CC" stroke-width="5"/>
<polygon points="2719,1570 2703,1561 2703,1579" fill="#B3A3CC"/>
<rect x="2725" y="1435" width="142" height="295" rx="8" fill="none" stroke="#A88BC8" stroke-width="2.5"/>
<use href="#docic" transform="translate(2759,1469)"/>
<use href="#docic" transform="translate(2759,1606)"/>
<text x="2313" y="1737" textLength="225" lengthAdjust="spacingAndGlyphs" style="font-size:50px">cDA-DK</text>
<text x="2538" y="1737" style="font-size:50px">模型</text>
</svg>
</body></html>
